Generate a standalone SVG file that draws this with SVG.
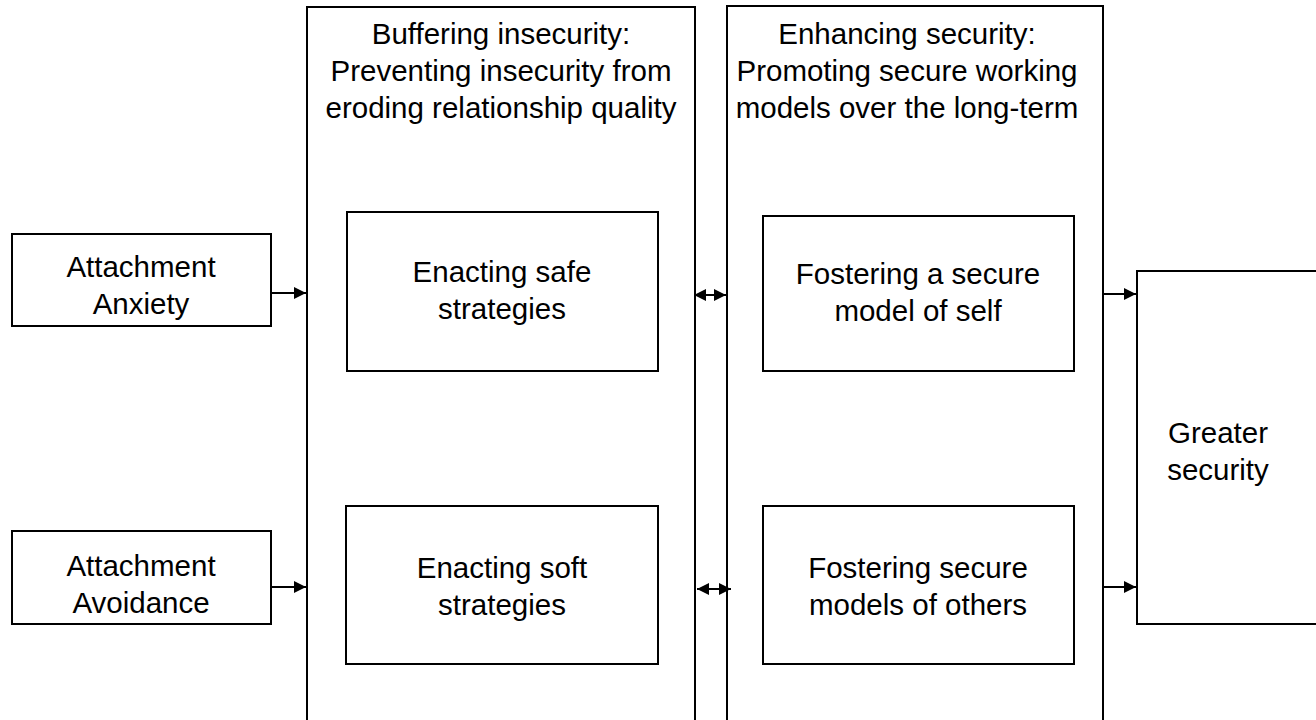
<svg xmlns="http://www.w3.org/2000/svg" width="1316" height="720" viewBox="0 0 1316 720">
<style>
.n rect{fill:#fff;stroke:#000;stroke-width:2}
text{font-family:"Liberation Sans",Arial,sans-serif;font-size:29.5px;fill:#000;text-anchor:middle}
.c line{stroke:#000;stroke-width:2}
</style>
<defs>
<marker id="ah" viewBox="0 0 10 10" refX="10" refY="5" markerWidth="6.5" markerHeight="6" orient="auto-start-reverse" markerUnits="strokeWidth">
<path d="M0,0L10,5L0,10z" fill="#000"/>
</marker>
</defs>
<rect width="1316" height="720" fill="#fff"/>
<g id="col-buffering" class="n">
<rect x="307" y="7" width="388" height="730"/>
<text x="501" y="44">Buffering insecurity:</text>
<text x="501" y="81">Preventing insecurity from</text>
<text x="501" y="118">eroding relationship quality</text>
</g>
<g id="col-enhancing" class="n">
<rect x="727" y="6" width="376" height="730"/>
<text x="907" y="44">Enhancing security:</text>
<text x="907" y="81">Promoting secure working</text>
<text x="907" y="118">models over the long-term</text>
</g>
<g id="anxiety" class="n">
<rect x="12" y="234" width="259" height="92"/>
<text x="141" y="277">Attachment</text>
<text x="141" y="314">Anxiety</text>
</g>
<g id="avoidance" class="n">
<rect x="12" y="531" width="259" height="93"/>
<text x="141" y="576">Attachment</text>
<text x="141" y="613">Avoidance</text>
</g>
<g id="safe" class="n">
<rect x="347" y="212" width="311" height="159"/>
<text x="502" y="282">Enacting safe</text>
<text x="502" y="319">strategies</text>
</g>
<g id="soft" class="n">
<rect x="346" y="506" width="312" height="158"/>
<text x="502" y="578">Enacting soft</text>
<text x="502" y="615">strategies</text>
</g>
<g id="self" class="n">
<rect x="763" y="216" width="311" height="155"/>
<text x="918" y="284">Fostering a secure</text>
<text x="918" y="321">model of self</text>
</g>
<g id="others" class="n">
<rect x="763" y="506" width="311" height="158"/>
<text x="918" y="578">Fostering secure</text>
<text x="918" y="615">models of others</text>
</g>
<g id="greater" class="n">
<rect x="1137" y="271" width="200" height="353"/>
<text x="1218" y="443">Greater</text>
<text x="1218" y="480">security</text>
</g>
<g class="c" id="connectors">
<line x1="272" y1="293" x2="306" y2="293" marker-end="url(#ah)"/>
<line x1="272" y1="587" x2="306" y2="587" marker-end="url(#ah)"/>
<line x1="694" y1="295" x2="726" y2="295" marker-start="url(#ah)" marker-end="url(#ah)"/>
<line x1="697" y1="589" x2="731" y2="589" marker-start="url(#ah)" marker-end="url(#ah)"/>
<line x1="1104" y1="294" x2="1136" y2="294" marker-end="url(#ah)"/>
<line x1="1104" y1="587" x2="1136" y2="587" marker-end="url(#ah)"/>
</g>
</svg>
